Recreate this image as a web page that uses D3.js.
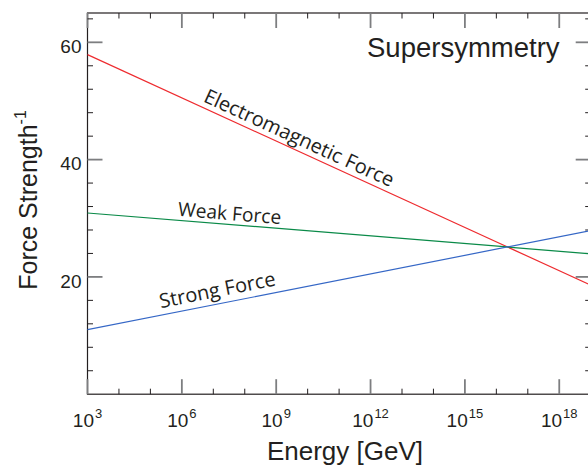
<!DOCTYPE html>
<html>
<head>
<meta charset="utf-8">
<script src="https://cdn.jsdelivr.net/npm/d3@7"></script>
<style>
html,body{margin:0;padding:0;background:#fff;}
svg{display:block;}
</style>
</head>
<body>
<svg id="chart" width="588" height="465"></svg>
<script>
// ---- data ----
const energies = [1e3, 1e19];             // GeV
const electromagnetic = [57.9, 18.6];     // inverse coupling
const weak = [30.9, 23.95];
const strong = [11.0, 27.9];
const xMajorExps = [3, 6, 9, 12, 15, 18];
const xMinorExps = [3,4,5,6,7,8,9,10,11,12,13,14,15,16,17,18,19];
const yMajorTicks = [20, 40, 60];
const yMinorTicks = [4,8,12,16,24,28,32,36,44,48,52,56,64];
const seriesNames = ["Electromagnetic Force", "Weak Force", "Strong Force"];
const labelStartExp = [6.58, 5.85, 5.37];

(function () {
// ---- layout ----
const svg = d3.select("#chart");
const pL = 87.5, pR = 590.7, pT = 13, pB = 394.2;
const x = d3.scaleLog().domain([1e3, 1e19]).range([pL, pR]);
const y = d3.scaleLinear().domain([0, 65]).range([pB, pT]);

const ink = "#231f20";
const majorCol = "#7d7e80";
const axisFont = "'Liberation Sans', Arial, Helvetica, sans-serif";

// frame
const g = svg.append("g");
g.append("rect").attr("x", pL).attr("y", pT)
  .attr("width", pR - pL).attr("height", pB - pT)
  .attr("fill", "none").attr("stroke", ink).attr("stroke-width", 1.2);

// ticks
const majLen = 15, minLen = 5.5;
function xTick(e, len, col, w) {
  const xp = x(Math.pow(10, e));
  g.append("line").attr("x1", xp).attr("x2", xp).attr("y1", pB).attr("y2", pB - len)
    .attr("stroke", col).attr("stroke-width", w);
  g.append("line").attr("x1", xp).attr("x2", xp).attr("y1", pT).attr("y2", pT + len)
    .attr("stroke", col).attr("stroke-width", w);
}
function yTick(v, len, col, w) {
  const yp = y(v);
  g.append("line").attr("x1", pL).attr("x2", pL + len).attr("y1", yp).attr("y2", yp)
    .attr("stroke", col).attr("stroke-width", w);
  g.append("line").attr("x1", pR).attr("x2", pR - len).attr("y1", yp).attr("y2", yp)
    .attr("stroke", col).attr("stroke-width", w);
}
xMinorExps.filter(e => !xMajorExps.includes(e)).forEach(e => xTick(e, minLen, ink, 1));
xMajorExps.forEach(e => xTick(e, majLen, majorCol, 1.8));
yMinorTicks.forEach(v => yTick(v, minLen, ink, 1));
yMajorTicks.forEach(v => yTick(v, majLen, majorCol, 1.8));

// x tick labels 10^n
xMajorExps.forEach(e => {
  const t = g.append("text").attr("x", x(Math.pow(10, e))).attr("y", 426.5)
    .attr("text-anchor", "middle").attr("font-family", axisFont)
    .attr("font-size", 19).attr("fill", ink);
  t.append("tspan").text("10");
  t.append("tspan").attr("font-size", 13).attr("dy", -8.5).attr("dx", 1).text(e);
});

// y tick labels
yMajorTicks.forEach(v => {
  g.append("text").attr("x", 81.5).attr("y", y(v) + 4).attr("dy", "0.35em")
    .attr("text-anchor", "end").attr("font-family", axisFont)
    .attr("font-size", 19).attr("fill", ink).text(v);
});

// axis titles
g.append("text").attr("x", 345).attr("y", 460).attr("text-anchor", "middle")
  .attr("font-family", axisFont).attr("font-size", 26).attr("fill", ink)
  .text("Energy [GeV]");
const yt = g.append("text").attr("transform", "translate(37,200) rotate(-90)")
  .attr("text-anchor", "middle").attr("font-family", axisFont)
  .attr("font-size", 25).attr("fill", ink);
yt.append("tspan").text("Force Strength");
yt.append("tspan").attr("font-size", 16).attr("dy", -11).text("-1");

// Supersymmetry label
g.append("text").attr("x", 367).attr("y", 56.5).attr("font-family", axisFont)
  .attr("font-size", 27.5).attr("fill", ink).text("Supersymmetry");

// lines
const series = [electromagnetic, weak, strong];
const colors = ["#ee2b2f", "#0a8a48", "#3567c6"];
const line = d3.line().x(d => x(d[0])).y(d => y(d[1]));
series.forEach((vals, i) => {
  const pts = energies.map((e, j) => [e, vals[j]]);
  svg.append("path").attr("d", line(pts)).attr("fill", "none")
    .attr("stroke", colors[i]).attr("stroke-width", 1.2);
});

// line labels, rotated along the line
const labelDy = [-5.5, -4.5, -7];
const labelSize = [20, 19.2, 20];
series.forEach((vals, i) => {
  const lx0 = Math.log10(energies[0]), lx1 = Math.log10(energies[1]);
  const px0 = x(energies[0]), py0 = y(vals[0]);
  const px1 = x(energies[1]), py1 = y(vals[1]);
  const ang = Math.atan2(py1 - py0, px1 - px0) * 180 / Math.PI;
  const e = labelStartExp[i];
  const v = vals[0] + (vals[1] - vals[0]) * (e - lx0) / (lx1 - lx0);
  svg.append("text")
    .attr("transform", `translate(${x(Math.pow(10, e))},${y(v)}) rotate(${ang})`)
    .attr("dy", labelDy[i])
    .attr("font-family", "'Open Sans', 'Noto Sans', sans-serif")
    .attr("font-size", labelSize[i]).attr("fill", ink).text(seriesNames[i]);
});
})();
</script>
</body>
</html>
